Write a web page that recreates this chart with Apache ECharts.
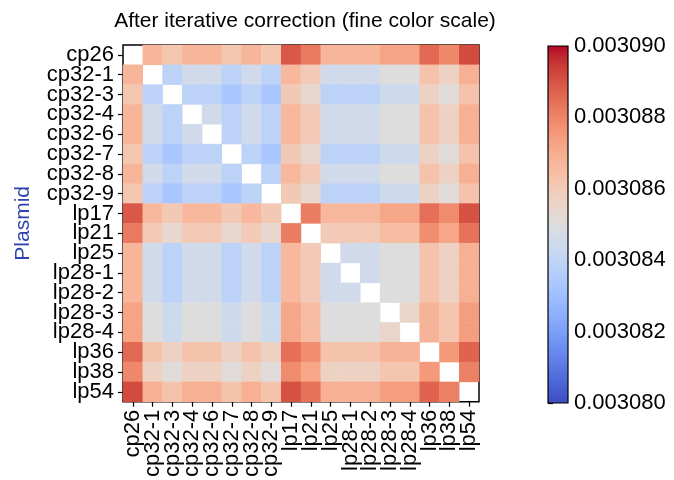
<!DOCTYPE html>
<html><head><meta charset="utf-8">
<script src="https://cdn.jsdelivr.net/npm/echarts@6/dist/echarts.min.js"></script>
<style>html,body{margin:0;padding:0;background:#fff}#c{width:674px;height:480px}</style>
</head><body><div id="c"></div>
<script>
const plasmids = ['cp26','cp32-1','cp32-3','cp32-4','cp32-6','cp32-7','cp32-8','cp32-9','lp17','lp21','lp25','lp28-1','lp28-2','lp28-3','lp28-4','lp36','lp38','lp54'];
const vMin = 0.003080, vMax = 0.003090;
const colorbarTicks = [0.003080,0.003082,0.003084,0.003086,0.003088,0.003090];
const row_cp26  = [null,0.00308675,0.00308615,0.00308675,0.00308675,0.00308615,0.00308675,0.00308615,0.00308890,0.00308825,0.00308675,0.00308675,0.00308675,0.00308725,0.00308725,0.00308855,0.00308795,0.00308915];
const row_cp321 = [0.00308675,null,0.00308390,0.00308450,0.00308450,0.00308390,0.00308450,0.00308390,0.00308665,0.00308600,0.00308450,0.00308450,0.00308450,0.00308500,0.00308500,0.00308630,0.00308570,0.00308690];
const row_cp323 = [0.00308615,0.00308390,null,0.00308390,0.00308390,0.00308330,0.00308390,0.00308330,0.00308605,0.00308540,0.00308390,0.00308390,0.00308390,0.00308440,0.00308440,0.00308570,0.00308510,0.00308630];
const row_cp324 = [0.00308675,0.00308450,0.00308390,null,0.00308450,0.00308390,0.00308450,0.00308390,0.00308665,0.00308600,0.00308450,0.00308450,0.00308450,0.00308500,0.00308500,0.00308630,0.00308570,0.00308690];
const row_cp326 = [0.00308675,0.00308450,0.00308390,0.00308450,null,0.00308390,0.00308450,0.00308390,0.00308665,0.00308600,0.00308450,0.00308450,0.00308450,0.00308500,0.00308500,0.00308630,0.00308570,0.00308690];
const row_cp327 = [0.00308615,0.00308390,0.00308330,0.00308390,0.00308390,null,0.00308390,0.00308330,0.00308605,0.00308540,0.00308390,0.00308390,0.00308390,0.00308440,0.00308440,0.00308570,0.00308510,0.00308630];
const row_cp328 = [0.00308675,0.00308450,0.00308390,0.00308450,0.00308450,0.00308390,null,0.00308390,0.00308665,0.00308600,0.00308450,0.00308450,0.00308450,0.00308500,0.00308500,0.00308630,0.00308570,0.00308690];
const row_cp329 = [0.00308615,0.00308390,0.00308330,0.00308390,0.00308390,0.00308330,0.00308390,null,0.00308605,0.00308540,0.00308390,0.00308390,0.00308390,0.00308440,0.00308440,0.00308570,0.00308510,0.00308630];
const row_lp17  = [0.00308890,0.00308665,0.00308605,0.00308665,0.00308665,0.00308605,0.00308665,0.00308605,null,0.00308815,0.00308665,0.00308665,0.00308665,0.00308715,0.00308715,0.00308845,0.00308785,0.00308905];
const row_lp21  = [0.00308825,0.00308600,0.00308540,0.00308600,0.00308600,0.00308540,0.00308600,0.00308540,0.00308815,null,0.00308600,0.00308600,0.00308600,0.00308650,0.00308650,0.00308780,0.00308720,0.00308840];
const row_lp25  = [0.00308675,0.00308450,0.00308390,0.00308450,0.00308450,0.00308390,0.00308450,0.00308390,0.00308665,0.00308600,null,0.00308450,0.00308450,0.00308500,0.00308500,0.00308630,0.00308570,0.00308690];
const row_lp281 = [0.00308675,0.00308450,0.00308390,0.00308450,0.00308450,0.00308390,0.00308450,0.00308390,0.00308665,0.00308600,0.00308450,null,0.00308450,0.00308500,0.00308500,0.00308630,0.00308570,0.00308690];
const row_lp282 = [0.00308675,0.00308450,0.00308390,0.00308450,0.00308450,0.00308390,0.00308450,0.00308390,0.00308665,0.00308600,0.00308450,0.00308450,null,0.00308500,0.00308500,0.00308630,0.00308570,0.00308690];
const row_lp283 = [0.00308725,0.00308500,0.00308440,0.00308500,0.00308500,0.00308440,0.00308500,0.00308440,0.00308715,0.00308650,0.00308500,0.00308500,0.00308500,null,0.00308550,0.00308680,0.00308620,0.00308740];
const row_lp284 = [0.00308725,0.00308500,0.00308440,0.00308500,0.00308500,0.00308440,0.00308500,0.00308440,0.00308715,0.00308650,0.00308500,0.00308500,0.00308500,0.00308550,null,0.00308680,0.00308620,0.00308740];
const row_lp36  = [0.00308855,0.00308630,0.00308570,0.00308630,0.00308630,0.00308570,0.00308630,0.00308570,0.00308845,0.00308780,0.00308630,0.00308630,0.00308630,0.00308680,0.00308680,null,0.00308750,0.00308870];
const row_lp38  = [0.00308795,0.00308570,0.00308510,0.00308570,0.00308570,0.00308510,0.00308570,0.00308510,0.00308785,0.00308720,0.00308570,0.00308570,0.00308570,0.00308620,0.00308620,0.00308750,null,0.00308810];
const row_lp54  = [0.00308915,0.00308690,0.00308630,0.00308690,0.00308690,0.00308630,0.00308690,0.00308630,0.00308905,0.00308840,0.00308690,0.00308690,0.00308690,0.00308740,0.00308740,0.00308870,0.00308810,null];
const rows = [row_cp26,row_cp321,row_cp323,row_cp324,row_cp326,row_cp327,row_cp328,row_cp329,row_lp17,row_lp21,row_lp25,row_lp281,row_lp282,row_lp283,row_lp284,row_lp36,row_lp38,row_lp54];

const coolwarm = ['#3b4cc0','#445acc','#4d68d7','#5775e1','#6282ea','#6c8ef1','#779af7','#82a5fb','#8db0fe','#98b9ff','#a3c2ff','#aec9fd','#b8d0f9','#c2d5f4','#ccd9ee','#d5dbe6','#dddddd','#e5d8d1','#ecd3c5','#f1ccb9','#f5c4ad','#f7bba0','#f7b194','#f7a687','#f49a7b','#f18d6f','#ec7f63','#e57058','#de604d','#d55042','#cb3e38','#c0282f','#b40426'];

const data = [];
rows.forEach((r, i) => r.forEach((v, j) => { if (v !== null) data.push([j, i, v]); }));

const FONT = 'Liberation Sans';
const gLeft = 123, gTop = 45, gW = 356, gH = 357;
const cbLeft = 548, cbTop = 46, cbW = 20, cbH = 357;

const chart = echarts.init(document.getElementById('c'), null, {renderer: 'canvas'});
chart.setOption({
  animation: false,
  backgroundColor: '#ffffff',
  title: {
    text: 'After iterative correction (fine color scale)',
    left: 300, top: 6, textAlign: 'center',
    textStyle: {fontFamily: FONT, fontSize: 21, fontWeight: 'normal', color: '#000'}
  },
  grid: [
    {left: gLeft, top: gTop, width: gW, height: gH, show: true, borderColor: '#000', borderWidth: 1.5, backgroundColor: '#fff'},
    {left: cbLeft, top: cbTop, width: cbW, height: cbH, show: false}
  ],
  xAxis: [
    {type: 'category', gridIndex: 0, data: plasmids, position: 'bottom',
     axisLine: {show: false}, splitLine: {show: false},
     axisTick: {show: true, alignWithLabel: true, length: 5, lineStyle: {color: '#000', width: 1.2}},
     axisLabel: {rotate: 90, fontFamily: FONT, fontSize: 22, color: '#000', margin: 8, interval: 0}},
    {type: 'value', gridIndex: 1, show: false, min: 0, max: 1}
  ],
  yAxis: [
    {type: 'category', gridIndex: 0, data: plasmids, inverse: true,
     name: 'Plasmid', nameLocation: 'middle', nameGap: 89, nameRotate: 90,
     nameTextStyle: {fontFamily: FONT, fontSize: 21, color: '#2f44ad', padding: [0, 0, 0, 0]},
     axisLine: {show: false}, splitLine: {show: false},
     axisTick: {show: true, alignWithLabel: true, length: 5, lineStyle: {color: '#000', width: 1.2}},
     axisLabel: {fontFamily: FONT, fontSize: 22, color: '#000', margin: 9, interval: 0}},
    {type: 'value', gridIndex: 1, position: 'right', min: vMin, max: vMax, interval: 0.000002,
     axisLine: {show: false}, splitLine: {show: false},
     axisTick: {show: true, length: 5, lineStyle: {color: '#000', width: 1.2}},
     axisLabel: {fontFamily: FONT, fontSize: 22, color: '#000', margin: 6,
                 formatter: v => colorbarTicks.reduce((a, t) => Math.abs(t - v) < Math.abs(a - v) ? t : a).toFixed(6)}}
  ],
  visualMap: {show: false, type: 'continuous', min: vMin, max: vMax, seriesIndex: 0, inRange: {color: coolwarm}},
  graphic: [{
    type: 'rect', z: 10,
    shape: {x: cbLeft, y: cbTop, width: cbW, height: cbH},
    style: {
      fill: new echarts.graphic.LinearGradient(0, 1, 0, 0, coolwarm.map((c, k) => ({offset: k / (coolwarm.length - 1), color: c}))),
      stroke: '#000', lineWidth: 1.2
    }
  }],
  series: [
    {type: 'heatmap', xAxisIndex: 0, yAxisIndex: 0, data: data, itemStyle: {borderWidth: 0}, emphasis: {disabled: true}}
  ]
});
</script></body></html>
